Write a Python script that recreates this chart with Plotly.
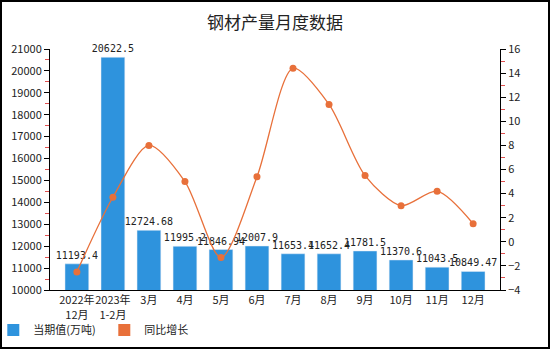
import plotly.graph_objects as go

categories = ["2022年<br>12月", "2023年<br>1-2月", "3月", "4月", "5月", "6月", "7月", "8月", "9月", "10月", "11月", "12月"]
output_values = [11193.4, 20622.5, 12724.68, 11995.2, 11846.94, 12007.9, 11653.4, 11652.4, 11781.5, 11370.6, 11043.5, 10849.47]
output_labels = ["11193.4", "20622.5", "12724.68", "11995.2", "11846.94", "12007.9", "11653.4", "11652.4", "11781.5", "11370.6", "11043.5", "10849.47"]
yoy_growth = [-2.5, 3.7, 8.0, 5.0, -1.3, 5.4, 14.4, 11.4, 5.5, 3.0, 4.2, 1.5]

font_family = "Noto Sans CJK SC, DejaVu Sans, sans-serif"
bar_color = "#2E93DD"
line_color = "#E8703A"

fig = go.Figure()
fig.add_trace(go.Bar(
    x=categories, y=output_values, name="当期值(万吨)", showlegend=False,
    marker=dict(color=bar_color), width=0.66,
    text=output_labels, textposition="outside", cliponaxis=False, constraintext="none",
    textfont=dict(size=10, color="#222", family="DejaVu Sans Mono, monospace"),
))
fig.add_trace(go.Scatter(
    x=categories, y=yoy_growth, name="同比增长", yaxis="y2", showlegend=False,
    mode="lines+markers", line=dict(color=line_color, width=1.3, shape="spline", smoothing=0.8),
    marker=dict(color=line_color, size=7),
))
# legend entries (square swatches)
fig.add_trace(go.Scatter(x=[None], y=[None], mode="markers", name="当期值(万吨)",
                         marker=dict(symbol="square", size=7, color=bar_color)))
fig.add_trace(go.Scatter(x=[None], y=[None], mode="markers", name="同比增长",
                         marker=dict(symbol="square", size=7, color=line_color)))

fig.update_layout(
    width=550, height=350,
    margin=dict(l=50, r=50, t=49, b=60, autoexpand=False),
    paper_bgcolor="white", plot_bgcolor="white",
    font=dict(family=font_family, size=11, color="#222"),
    title=dict(text="钢材产量月度数据", x=0.5, xanchor="center", y=0.935, yanchor="middle",
               font=dict(size=17, color="#222", family=font_family)),
    showlegend=True,
    legend=dict(orientation="h", x=-0.126, y=-0.166, xanchor="left", yanchor="middle",
                bgcolor="rgba(0,0,0,0)",
                font=dict(size=11), itemwidth=30, traceorder="normal",
                entrywidth=66, entrywidthmode="pixels",
                tracegroupgap=0, itemsizing="constant"),
    xaxis=dict(showline=True, linecolor="black", ticks="", tickfont=dict(size=11),
               showgrid=False, zeroline=False, tickangle=0, automargin=False),
    yaxis=dict(range=[10000, 21000], dtick=1000, tickformat="d", showline=True, linecolor="black",
               ticks="outside", ticklen=5, tickcolor="black", showgrid=False, zeroline=False,
               tickfont=dict(size=11), automargin=False,
               minor=dict(dtick=500, ticks="outside", ticklen=4, tickcolor="#E05050", showgrid=False)),
    yaxis2=dict(range=[-4, 16], dtick=2, overlaying="y", side="right", showline=True,
                linecolor="black", ticks="outside", ticklen=5, tickcolor="black",
                showgrid=False, zeroline=False, tickfont=dict(size=11), automargin=False,
                minor=dict(dtick=1, ticks="outside", ticklen=4, tickcolor="#E05050", showgrid=False)),
    shapes=[dict(type="rect", xref="paper", yref="paper", x0=-49/450, x1=1+49/450,
                 y0=-58/241, y1=1+48/241, line=dict(color="black", width=2))],
)

fig.write_html("out.html")
